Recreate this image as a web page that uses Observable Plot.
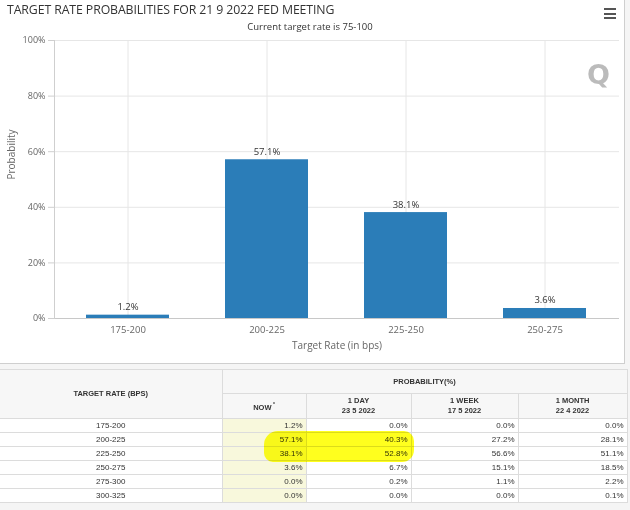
<!DOCTYPE html>
<html>
<head>
<meta charset="utf-8">
<script src="https://cdn.jsdelivr.net/npm/d3@7"></script>
<script src="https://cdn.jsdelivr.net/npm/@observablehq/plot@0.6"></script>
<style>
  html, body { margin: 0; padding: 0; }
  body { width: 630px; height: 510px; overflow: hidden; background: #f5f5f5; position: relative; font-family: "Open Sans", sans-serif; }
  #chartBox { position: absolute; left: 0; top: 0; width: 624px; height: 363px; background: #fff; border-right: 1px solid #cfcfcf; border-bottom: 1px solid #cfcfcf; }
  #chart { position: absolute; left: 0; top: 0; }
  #title { position: absolute; left: 7px; top: 1px; font-size: 12.3px; color: #333; white-space: nowrap; letter-spacing: -0.1px; }
  #subtitle { position: absolute; left: 0; width: 620px; top: 20px; text-align: center; font-size: 9.5px; color: #333; }
  #menu { position: absolute; left: 604px; top: 8px; width: 12px; }
  #menu span { display: block; height: 2px; background: #555; margin-bottom: 2.5px; }
  #logo { position: absolute; left: 587px; top: 59px; font: bold 27px "DejaVu Sans", sans-serif; color: #a5a5a5; opacity: 0.75; }
  #tbl { position: absolute; left: 0; top: 369px; width: 627px; border-collapse: collapse; table-layout: fixed; font-family: "Liberation Sans", Arial, sans-serif; font-size: 8px; color: #333; background: #fff; }
  #tbl th, #tbl td { border: 1px solid #dcdcdc; padding: 0 3px; overflow: hidden; white-space: nowrap; }
  #tbl th { background: #f7f7f7; font-weight: bold; font-size: 7.5px; text-align: center; color: #333; line-height: 10px; }
  #tbl td { height: 13px; line-height: 13px; text-align: right; }
  #tbl td.rate { text-align: center; }
  #tbl td.now { background: #f8f8dc; }
  #tbl tr:first-child th { border-top: 1px solid #c8c8c8; }
  #tbl th:first-child, #tbl td:first-child { border-left: none; }
  #hl { position: absolute; left: 264px; top: 431px; width: 150px; height: 31px; background: rgb(255,255,30); mix-blend-mode: multiply; border-radius: 14px 10px 12px 9px; }
</style>
</head>
<body>
<div id="chartBox"></div>
<div id="chart"></div>
<div id="title"></div>
<div id="subtitle"></div>
<div id="menu"><span></span><span></span><span></span></div>
<div id="logo">Q</div>
<table id="tbl"></table>
<div id="hl"></div>
<script>
// ---- data ----
const chartTitle = "TARGET RATE PROBABILITIES FOR 21 9 2022 FED MEETING";
const chartSubtitle = "Current target rate is 75-100";
const categories = ["175-200", "200-225", "225-250", "250-275"];
const probabilities = [1.2, 57.1, 38.1, 3.6];
const yTicks = [0, 20, 40, 60, 80, 100];
const xLabel = "Target Rate (in bps)";
const yLabel = "Probability";

const tableRates = ["175-200", "200-225", "225-250", "250-275", "275-300", "300-325"];
const nowValues = [1.2, 57.1, 38.1, 3.6, 0.0, 0.0];
const oneDayValues = [0.0, 40.3, 52.8, 6.7, 0.2, 0.0];
const oneWeekValues = [0.0, 27.2, 56.6, 15.1, 1.1, 0.0];
const oneMonthValues = [0.0, 28.1, 51.1, 18.5, 2.2, 0.1];
const colHeaders = [["NOW", ""], ["1 DAY", "23 5 2022"], ["1 WEEK", "17 5 2022"], ["1 MONTH", "22 4 2022"]];
const rateHeader = "TARGET RATE (BPS)";
const probHeader = "PROBABILITY(%)";

// ---- chart ----
document.getElementById("title").textContent = chartTitle;
document.getElementById("subtitle").textContent = chartSubtitle;

const data = categories.map((c, i) => ({rate: c, p: probabilities[i]}));
const grid = "#e6e6e6";

const chart = Plot.plot({
  width: 630,
  height: 364,
  marginLeft: 54,
  marginRight: 11,
  marginTop: 40,
  marginBottom: 46,
  style: {fontFamily: "'Open Sans', sans-serif", fontSize: "9px", color: "#666", background: "transparent", overflow: "visible"},
  x: {domain: categories, range: [58, 614], paddingInner: 0.4, paddingOuter: 0.2, label: null},
  y: {domain: [0, 100], label: null},
  marks: [
    Plot.ruleY(yTicks, {stroke: grid}),
    Plot.ruleX(categories, {x: d => d, stroke: grid}),
    Plot.barY(data, {x: "rate", y: "p", fill: "#2b7db8"}),
    Plot.text(data, {x: "rate", y: "p", text: d => d.p.toFixed(1) + "%", dy: -5, lineAnchor: "bottom", fill: "#333", fontSize: 9.5}),
    Plot.ruleY([0], {stroke: "#c8c8c8"}),
    Plot.frame({anchor: "left", stroke: "#cfcfcf"}),
    Plot.axisY({ticks: yTicks, tickFormat: d => d + "%", tickSize: 6, tickPadding: 3, stroke: "#cfcfcf", fill: "#666", label: null}),
    Plot.axisX({tickSize: 0, tickPadding: 8, fill: "#666", label: null, fontSize: 9.5}),
    Plot.text([xLabel], {frameAnchor: "bottom", dy: 30, text: d => d, fill: "#666", fontSize: 10}),
    Plot.text([yLabel], {frameAnchor: "left", dx: -43, rotate: -90, text: d => d, fill: "#666", fontSize: 10})
  ]
});
document.getElementById("chart").appendChild(chart);

// ---- table ----
const fmt = v => v.toFixed(1) + "%";
const tbl = d3.select("#tbl");
const cg = tbl.append("colgroup");
[222, 84, 105, 107, 109].forEach(w => cg.append("col").style("width", w + "px"));
const h1 = tbl.append("tr").style("height", "24px");
h1.append("th").attr("rowspan", 2).text(rateHeader);
h1.append("th").attr("colspan", 4).text(probHeader);
const h2 = tbl.append("tr").style("height", "25px");
colHeaders.forEach((h, i) => {
  const th = h2.append("th");
  if (i === 0) { th.text(h[0]); th.append("sup").style("font-size", "5px").text(" *"); }
  else { th.html(h[0] + "<br>" + h[1]); }
});
tableRates.forEach((r, i) => {
  const tr = tbl.append("tr");
  tr.append("td").attr("class", "rate").text(r);
  tr.append("td").attr("class", "now").text(fmt(nowValues[i]));
  tr.append("td").text(fmt(oneDayValues[i]));
  tr.append("td").text(fmt(oneWeekValues[i]));
  tr.append("td").text(fmt(oneMonthValues[i]));
});
</script>
</body>
</html>
